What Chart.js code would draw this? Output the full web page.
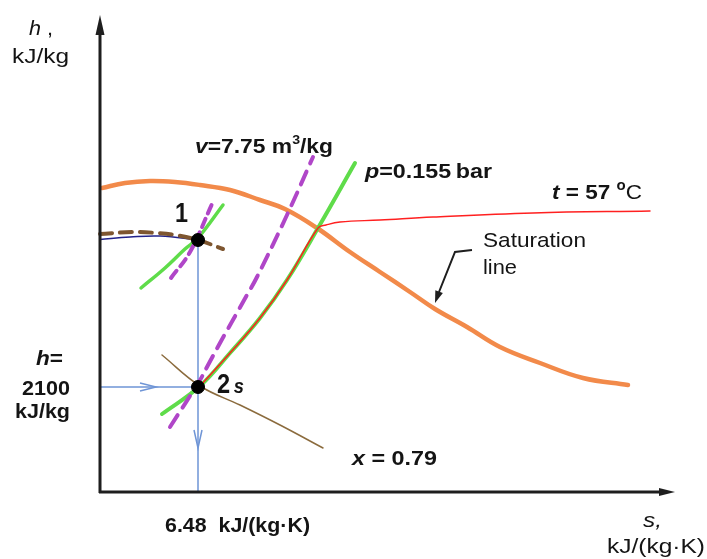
<!DOCTYPE html>
<html>
<head>
<meta charset="utf-8">
<title>h-s diagram</title>
<script src="https://cdn.jsdelivr.net/npm/chart.js"></script>
<style>
  html, body { margin: 0; padding: 0; background: #fff; }
  canvas { display: block; }
</style>
</head>
<body>
<canvas id="hs" width="707" height="559"></canvas>
<script>
// s in kJ/(kg*K), h in kJ/kg
const satS = [5.52, 5.75, 6.00, 6.25, 6.50, 6.80, 7.10, 7.35, 7.67, 8.00, 8.30, 8.60, 8.85, 9.17, 9.50, 9.90, 10.33, 10.78];
const satH = [2896, 2916, 2924, 2920, 2908, 2888, 2848, 2812, 2736, 2640, 2560, 2480, 2412, 2340, 2260, 2196, 2136, 2108];

const liqS = [5.50, 5.83, 6.07, 6.25, 6.48, 6.73];
const liqH = [2712, 2720, 2716, 2708, 2688, 2652];
const navyS = [5.50, 5.80, 6.10, 6.48];
const navyH = [2690, 2700, 2704, 2688];

// isobar p = 0.155 bar
const pS = [6.12, 6.50, 6.80, 7.10, 7.37, 7.68, 8.05];
const pH = [1992, 2104, 2236, 2376, 2528, 2736, 2996];
// isobar through point 1
const p1S = [5.91, 6.15, 6.35, 6.48, 6.73];
const p1H = [2496, 2576, 2652, 2696, 2828];

// isochore v = 7.75 m3/kg
const vS = [6.20, 6.50, 6.57, 6.70, 6.97, 7.07, 7.37, 7.63];
const vH = [1940, 2128, 2180, 2276, 2468, 2540, 2788, 3020];
// isochore through point 1
const v1S = [6.21, 6.40, 6.62];
const v1H = [2536, 2640, 2832];

// isotherm t = 57 C
const tS = [6.50, 6.80, 7.10, 7.37, 7.68, 7.76, 7.90, 8.30, 8.83, 9.83, 11.00];
const tH = [2104, 2236, 2376, 2528, 2736, 2748, 2760, 2768, 2780, 2796, 2804];

// dryness x = 0.79
const xS = [6.12, 6.50, 6.90, 7.30, 7.73];
const xH = [2228, 2104, 2028, 1948, 1856];

// states 1 and 2s
const ptS = [6.48, 6.48];
const ptH = [2688, 2100];

// axes
const sOrigin = 5.5, hOrigin = 1680, sEnd = 11.25, hEnd = 3588;

const pts = (s, h) => s.map((v, i) => ({ x: v, y: h[i] }));

function ds(s, h, color, width, dash, order, tension) {
  return {
    data: pts(s, h),
    borderColor: color,
    borderWidth: width,
    borderDash: dash || [],
    borderCapStyle: 'round',
    pointRadius: 0,
    showLine: true,
    fill: false,
    tension: tension === undefined ? 0.4 : tension,
    order: order
  };
}

const FONT = '"Liberation Sans", Arial, sans-serif';
const INK = '#141414';

function richText(ctx, x, y, parts, base, width) {
  let total = 0;
  const fonts = parts.map(p => (p.st || '') + ' ' + (p.sz || base) + 'px ' + FONT);
  parts.forEach((p, i) => { ctx.font = fonts[i]; p.w = ctx.measureText(p.t).width; total += p.w; });
  const k = width ? width / total : 1;
  ctx.save();
  ctx.translate(x, y);
  ctx.scale(k, 1);
  ctx.fillStyle = INK;
  ctx.textBaseline = 'alphabetic';
  let cx = 0;
  parts.forEach((p, i) => { ctx.font = fonts[i]; ctx.fillText(p.t, cx, p.dy || 0); cx += p.w; });
  ctx.restore();
}

function arrowHead(ctx, tx, ty, ang, len, half) {
  ctx.beginPath();
  ctx.moveTo(tx, ty);
  ctx.lineTo(tx - len * Math.cos(ang) + half * Math.sin(ang), ty - len * Math.sin(ang) - half * Math.cos(ang));
  ctx.lineTo(tx - len * Math.cos(ang) - half * Math.sin(ang), ty - len * Math.sin(ang) + half * Math.cos(ang));
  ctx.closePath();
  ctx.fill();
}

const decor = {
  id: 'decor',
  afterDatasetsDraw(chart) {
    const ctx = chart.ctx;
    const xs = chart.scales.x, ys = chart.scales.y;
    const x0 = xs.getPixelForValue(sOrigin), y0 = ys.getPixelForValue(hOrigin);
    const x1 = xs.getPixelForValue(sEnd), y1 = ys.getPixelForValue(hEnd);
    const s2 = xs.getPixelForValue(ptS[1]), h2 = ys.getPixelForValue(ptH[1]);

    ctx.save();
    // blue arrow marks
    ctx.strokeStyle = '#6f95d6';
    ctx.lineWidth = 1.5;
    ctx.beginPath();
    ctx.moveTo(s2 - 58, h2 - 4); ctx.lineTo(s2 - 42, h2); ctx.lineTo(s2 - 58, h2 + 4);
    ctx.moveTo(s2 - 4, y0 - 62); ctx.lineTo(s2, y0 - 44); ctx.lineTo(s2 + 4, y0 - 62);
    ctx.stroke();

    // axes
    ctx.strokeStyle = '#1e1e1e';
    ctx.fillStyle = '#1e1e1e';
    ctx.lineWidth = 3;
    ctx.beginPath();
    ctx.moveTo(x0, y0 + 1); ctx.lineTo(x0, y1 + 10);
    ctx.moveTo(x0 - 1, y0); ctx.lineTo(x1 - 10, y0);
    ctx.stroke();
    arrowHead(ctx, x0, y1, -Math.PI / 2, 20, 4.5);
    arrowHead(ctx, x1, y0, 0, 16, 4);

    // leader for the saturation line
    ctx.lineWidth = 2;
    ctx.beginPath();
    ctx.moveTo(472, 250); ctx.lineTo(455, 252); ctx.lineTo(439, 292);
    ctx.stroke();
    arrowHead(ctx, 435, 303, Math.atan2(11, -4), 12, 4);
    ctx.restore();

    // texts
    richText(ctx, 29, 35, [{ t: 'h', st: 'italic' }, { t: ' ,' }], 21, 24);
    richText(ctx, 12, 63, [{ t: 'kJ/kg' }], 21, 57);
    richText(ctx, 195, 153, [{ t: 'v', st: 'italic bold' }, { t: '=7.75 m', st: 'bold' }, { t: '3', st: 'bold', sz: 13, dy: -9 }, { t: '/kg', st: 'bold' }], 21, 138);
    richText(ctx, 365, 178, [{ t: 'p', st: 'italic bold' }, { t: '=0.155\u2009bar', st: 'bold' }], 21, 127);
    richText(ctx, 552, 199, [{ t: 't', st: 'italic bold' }, { t: ' = 57 ', st: 'bold' }, { t: 'o', st: 'bold', sz: 14, dy: -9 }, { t: 'C' }], 21, 90);
    richText(ctx, 483, 247, [{ t: 'Saturation' }], 21, 103);
    richText(ctx, 483, 274, [{ t: 'line' }], 21, 34);
    richText(ctx, 175, 222, [{ t: '1', st: 'bold' }], 27, 13);
    richText(ctx, 217, 393, [{ t: '2', st: 'bold', sz: 27 }, { t: '\u2009s', st: 'italic bold', sz: 21 }], 21, 27);
    richText(ctx, 36, 365, [{ t: 'h', st: 'italic bold' }, { t: '=', st: 'bold' }], 21, 27);
    richText(ctx, 22, 395, [{ t: '2100', st: 'bold' }], 21, 48);
    richText(ctx, 15, 418, [{ t: 'kJ/kg', st: 'bold' }], 21, 55);
    richText(ctx, 352, 465, [{ t: 'x', st: 'italic bold' }, { t: ' = 0.79', st: 'bold' }], 21, 85);
    richText(ctx, 165, 532, [{ t: '6.48  kJ/(kg\u00b7K)', st: 'bold' }], 21, 145);
    richText(ctx, 643, 527, [{ t: 's,', st: 'italic' }], 21, 19);
    richText(ctx, 607, 553, [{ t: 'kJ/(kg\u00b7K)' }], 21, 98);
  }
};

new Chart(document.getElementById('hs'), {
  type: 'scatter',
  data: {
    datasets: [
      ds(satS, satH, '#f28a4a', 4.5, null, 9),
      ds(navyS, navyH, '#22228a', 1.5, null, 8),
      ds(liqS, liqH, '#7e5630', 4, [12, 8], 7),
      ds([ptS[0], ptS[0]], [ptH[0], hOrigin], '#6f95d6', 1.5, null, 6, 0),
      ds([sOrigin, ptS[1]], [ptH[1], ptH[1]], '#6f95d6', 1.5, null, 6, 0),
      ds(xS, xH, '#8b6b3d', 1.5, null, 5),
      ds(pS, pH, '#5fdc4a', 4, null, 4),
      ds(p1S, p1H, '#5fdc4a', 3.5, null, 4),
      ds(vS, vH, '#b046c8', 4, [14, 9], 3),
      ds(v1S, v1H, '#b046c8', 4, [9, 6], 3),
      ds(tS, tH, '#ff2020', 1.5, null, 2),
      {
        data: pts(ptS, ptH),
        pointRadius: 6.5,
        pointBackgroundColor: '#000',
        pointBorderColor: '#000',
        showLine: false,
        order: 0
      }
    ]
  },
  options: {
    responsive: false,
    animation: false,
    layout: { padding: 0, autoPadding: false },
    plugins: { legend: { display: false }, tooltip: { enabled: false } },
    scales: {
      x: { type: 'linear', min: 4.5, max: 11.57, display: false },
      y: { type: 'linear', min: 1412, max: 3648, display: false }
    }
  },
  plugins: [decor]
});
</script>
</body>
</html>
